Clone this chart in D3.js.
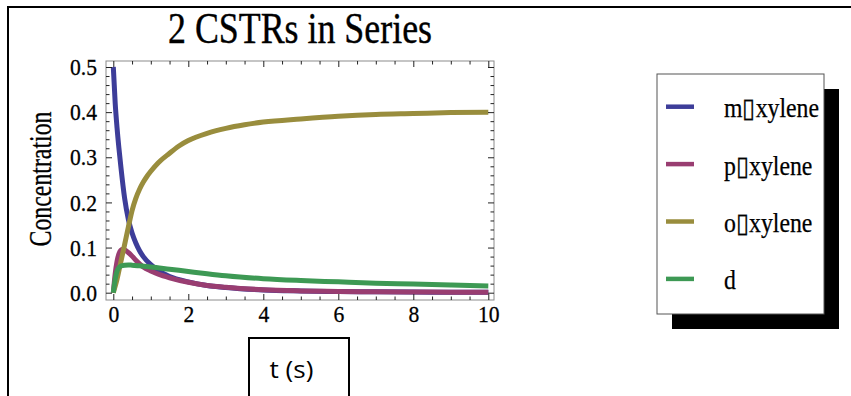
<!DOCTYPE html>
<html><head><meta charset="utf-8">
<script src="https://cdn.jsdelivr.net/npm/d3@7"></script>
<style>body{margin:0;background:#fff}svg{display:block}</style>
</head><body><svg id="c" width="851" height="396"></svg>
<script>
// ---- data ----
const tM = [0,0.05,0.1,0.15,0.2,0.3,0.4,0.5,0.6,0.7,0.8,1.0,1.2,1.5,2,2.5,3,4,5,6,7,8,9,10];
const mXylene = [0.5,0.42,0.365,0.32,0.28,0.21,0.163,0.132,0.11,0.093,0.08,0.062,0.049,0.036,0.024,0.016,0.0115,0.006,0.0038,0.0026,0.0019,0.0014,0.0011,0.0009];
const tP = [0,0.05,0.1,0.15,0.2,0.25,0.3,0.4,0.5,0.6,0.7,0.8,1.0,1.2,1.5,2,2.5,3,4,5,6,7,8,9,10];
const pXylene = [0,0.042,0.07,0.086,0.094,0.096,0.095,0.089,0.081,0.072,0.064,0.057,0.048,0.041,0.033,0.023,0.016,0.012,0.0065,0.004,0.0028,0.002,0.0015,0.0012,0.001];
const tO = [0,0.1,0.2,0.3,0.4,0.5,0.6,0.7,0.8,0.9,1.0,1.2,1.5,1.75,2,2.5,3,3.5,4,5,6,7,8,9,10];
const oXylene = [0,0.03,0.068,0.106,0.145,0.182,0.209,0.229,0.245,0.258,0.269,0.288,0.309,0.325,0.337,0.353,0.364,0.372,0.378,0.385,0.391,0.395,0.397,0.399,0.4];
const tD = [0,0.05,0.1,0.15,0.2,0.3,0.4,0.5,0.7,1.0,1.5,2,2.5,3,4,5,6,7,8,9,10];
const dVals = [0,0.03,0.048,0.056,0.059,0.061,0.0615,0.061,0.0595,0.057,0.052,0.047,0.042,0.0375,0.031,0.027,0.024,0.021,0.019,0.017,0.015];

const seriesNames = ["m\u25AFxylene","p\u25AFxylene","o\u25AFxylene","d"];
const seriesColors = ["#3d3d99","#993d71","#998d3d","#3d9954"];
const xMajorTicks = [0,2,4,6,8,10];
const yMajorTicks = [0,0.1,0.2,0.3,0.4,0.5];
const titleText = "2 CSTRs in Series";
const yLabelText = "Concentration";
const xLabelText = "t (s)";

// ---- setup ----
const svg = d3.select("#c");
const x = d3.scaleLinear().domain([-0.195,10.152]).range([106,494]);
const y = d3.scaleLinear().domain([-0.0162,0.5133]).range([300,61]);
const [x0,x1] = x.range(), [y0,y1] = y.range();

function condense(sel, f){
  sel.each(function(){
    const w = this.getComputedTextLength();
    if (w>0) d3.select(this).attr("textLength", w*f).attr("lengthAdjust","spacingAndGlyphs");
  });
}

// outer frame (only top & left visible)
svg.append("path").attr("d","M8,396V7H851").attr("fill","none").attr("stroke","#000").attr("stroke-width",2);

// title
svg.append("text").attr("x",300).attr("y",43).attr("text-anchor","middle")
  .style("font-family","'Liberation Serif', serif").style("font-size","44px")
  .attr("stroke","#000").attr("stroke-width",0.4)
  .attr("textLength",264).attr("lengthAdjust","spacingAndGlyphs").text(titleText);

// series
const series = [
  {name:seriesNames[0], color:seriesColors[0], pts:tM.map((t,i)=>({t,v:mXylene[i]}))},
  {name:seriesNames[1], color:seriesColors[1], pts:tP.map((t,i)=>({t,v:pXylene[i]}))},
  {name:seriesNames[2], color:seriesColors[2], pts:tO.map((t,i)=>({t,v:oXylene[i]}))},
  {name:seriesNames[3], color:seriesColors[3], pts:tD.map((t,i)=>({t,v:dVals[i]}))}
];

svg.append("clipPath").attr("id","clip").append("rect")
  .attr("x",x0).attr("y",y1).attr("width",x1-x0).attr("height",y0-y1);

const line = d3.line().x(d=>x(d.t)).y(d=>y(d.v)).curve(d3.curveMonotoneX);
svg.append("g").attr("clip-path","url(#clip)").selectAll("path").data(series).join("path")
  .attr("d",d=>line(d.pts)).attr("fill","none").attr("stroke",d=>d.color)
  .attr("stroke-width",5).attr("stroke-linecap","butt").attr("stroke-linejoin","round");

// frame
svg.append("rect").attr("x",x0).attr("y",y1).attr("width",x1-x0).attr("height",y0-y1)
  .attr("fill","none").attr("stroke","#8c8c8c").attr("stroke-width",1);

// axes
const xMinor = d3.range(0,10.001,0.5).filter(v=>!xMajorTicks.includes(v));
const yMinor = d3.range(0,50.5,2).map(v=>v/100).filter(v=>Math.round(v*100)%10!==0);
function styleAxis(g){
  g.select(".domain").remove();
  g.selectAll(".tick line").attr("stroke","#222").attr("stroke-width",1);
  g.selectAll(".tick text").style("font-family","'Liberation Serif', serif").style("font-size","24px")
    .attr("fill","#000").attr("stroke","#000").attr("stroke-width",0.3).call(condense,0.9);
}
// bottom
svg.append("g").attr("transform",`translate(0,${y0})`)
  .call(d3.axisBottom(x).tickValues(xMajorTicks).tickSize(-6).tickPadding(5).tickFormat(d3.format("d"))).call(styleAxis);
svg.append("g").attr("transform",`translate(0,${y0})`)
  .call(d3.axisBottom(x).tickValues(xMinor).tickSize(-3.5).tickFormat("")).call(styleAxis);
// top
svg.append("g").attr("transform",`translate(0,${y1})`)
  .call(d3.axisTop(x).tickValues(xMajorTicks).tickSize(-6).tickFormat("")).call(styleAxis);
svg.append("g").attr("transform",`translate(0,${y1})`)
  .call(d3.axisTop(x).tickValues(xMinor).tickSize(-3.5).tickFormat("")).call(styleAxis);
// left
svg.append("g").attr("transform",`translate(${x0},0)`)
  .call(d3.axisLeft(y).tickValues(yMajorTicks).tickSize(-6).tickPadding(9).tickFormat(d3.format(".1f"))).call(styleAxis);
svg.append("g").attr("transform",`translate(${x0},0)`)
  .call(d3.axisLeft(y).tickValues(yMinor).tickSize(-3.5).tickFormat("")).call(styleAxis);
// right
svg.append("g").attr("transform",`translate(${x1},0)`)
  .call(d3.axisRight(y).tickValues(yMajorTicks).tickSize(-6).tickFormat("")).call(styleAxis);
svg.append("g").attr("transform",`translate(${x1},0)`)
  .call(d3.axisRight(y).tickValues(yMinor).tickSize(-3.5).tickFormat("")).call(styleAxis);

// y label
svg.append("text").attr("transform","translate(51,179) rotate(-90)").attr("text-anchor","middle")
  .style("font-family","'Liberation Serif', serif").style("font-size","32px")
  .attr("stroke","#000").attr("stroke-width",0.3)
  .attr("textLength",135).attr("lengthAdjust","spacingAndGlyphs").text(yLabelText);

// x label box
svg.append("rect").attr("x",249).attr("y",338).attr("width",100).attr("height",80)
  .attr("fill","none").attr("stroke","#000").attr("stroke-width",2);
svg.append("text").attr("x",291.5).attr("y",378).attr("text-anchor","middle")
  .style("font-family","'Open Sans', sans-serif").style("font-size","23px")
  .attr("textLength",44).attr("lengthAdjust","spacingAndGlyphs").text(xLabelText);

// legend
svg.append("rect").attr("x",672).attr("y",89).attr("width",167).attr("height",240).attr("fill","#000");
svg.append("rect").attr("x",657).attr("y",74).attr("width",167).attr("height",240)
  .attr("fill","#fff").attr("stroke","#555").attr("stroke-width",1);
const lg = svg.append("g").selectAll("g").data(series).join("g")
  .attr("transform",(d,i)=>`translate(0,${106.7+i*57.4})`);
lg.append("line").attr("x1",666).attr("x2",694).attr("y1",0).attr("y2",0)
  .attr("stroke",d=>d.color).attr("stroke-width",4.5);
lg.append("text").attr("x",724).attr("y",10.5)
  .style("font-family","'Liberation Serif', serif").style("font-size","27px")
  .attr("stroke","#000").attr("stroke-width",0.25)
  .text(d=>d.name).call(condense,0.88);
</script></body></html>
